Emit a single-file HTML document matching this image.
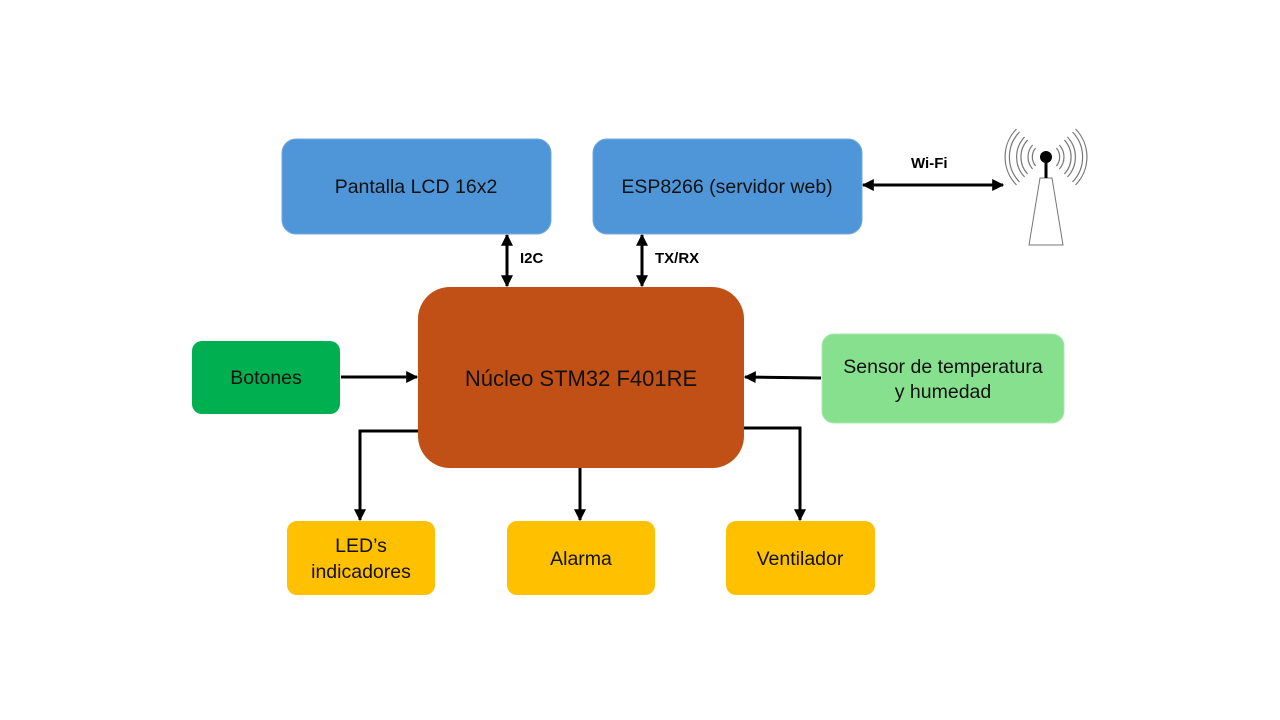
<!DOCTYPE html>
<html><head><meta charset="utf-8"><style>
html,body{margin:0;padding:0;background:#fff;}
svg{display:block;font-family:"Liberation Sans",sans-serif;}
</style></head><body>
<svg width="1280" height="720" viewBox="0 0 1280 720" xmlns="http://www.w3.org/2000/svg">
<defs>
<marker id="a" viewBox="0 0 10 10" refX="9" refY="5" markerWidth="4" markerHeight="4" orient="auto-start-reverse"><path d="M0,0L10,5L0,10z" fill="#000"/></marker>
</defs>
<rect width="1280" height="720" fill="#fff"/>
<g stroke="#000" stroke-width="3" fill="none">
<line x1="507" y1="235" x2="507" y2="286" marker-start="url(#a)" marker-end="url(#a)"/>
<line x1="642" y1="235" x2="642" y2="286" marker-start="url(#a)" marker-end="url(#a)"/>
<line x1="863" y1="185" x2="1003" y2="185" marker-start="url(#a)" marker-end="url(#a)"/>
<line x1="341" y1="377" x2="417" y2="377" marker-end="url(#a)"/>
<line x1="821" y1="378" x2="745" y2="377" marker-end="url(#a)"/>
<polyline points="418,431 360,431 360,520" marker-end="url(#a)"/>
<line x1="580" y1="468" x2="580" y2="520" marker-end="url(#a)"/>
<polyline points="744,428 800,428 800,520" marker-end="url(#a)"/>
</g>
<rect x="282" y="139" width="269" height="95" rx="14" fill="#4f96d9" stroke="#6fa9e0"/>
<rect x="593" y="139" width="269" height="95" rx="14" fill="#4f96d9" stroke="#6fa9e0"/>
<rect x="418" y="287" width="326" height="181" rx="32" fill="#c05016"/>
<rect x="192" y="341" width="148" height="73" rx="10" fill="#00b050"/>
<rect x="822" y="334" width="242" height="89" rx="12" fill="#86e08e" stroke="#a7e8ad"/>
<rect x="287" y="521" width="148" height="74" rx="10" fill="#ffc000"/>
<rect x="507" y="521" width="148" height="74" rx="10" fill="#ffc000"/>
<rect x="726" y="521" width="149" height="74" rx="10" fill="#ffc000"/>
<g font-size="19.5" text-anchor="middle" fill="#111">
<text x="416" y="193">Pantalla LCD 16x2</text>
<text x="727" y="193">ESP8266 (servidor web)</text>
<text x="581" y="386" font-size="22">Núcleo STM32 F401RE</text>
<text x="266" y="384">Botones</text>
<text x="943" y="373">Sensor de temperatura</text>
<text x="943" y="398">y humedad</text>
<text x="361" y="552">LED’s</text>
<text x="361" y="578">indicadores</text>
<text x="581" y="565">Alarma</text>
<text x="800" y="565">Ventilador</text>
</g>
<g font-size="15" font-weight="bold" fill="#000">
<text x="520" y="263">I2C</text>
<text x="655" y="263">TX/RX</text>
<text x="911" y="168">Wi-Fi</text>
</g>
<g fill="none" stroke="#777" stroke-width="1.2" transform="translate(1046,157)">
<path d="M-10.4,-9 A14,14 0 0 0 -10.4,9 M10.4,-9 A14,14 0 0 1 10.4,9"/>
<path d="M-13.4,-12 A18,18 0 0 0 -13.4,12 M13.4,-12 A18,18 0 0 1 13.4,12"/>
<path d="M-18.4,-17 A25,25 0 0 0 -18.4,17 M18.4,-17 A25,25 0 0 1 18.4,17"/>
<path d="M-21.4,-20 A29,29 0 0 0 -21.4,20 M21.4,-20 A29,29 0 0 1 21.4,20"/>
<path d="M-26.5,-25 A36,36 0 0 0 -26.5,25 M26.5,-25 A36,36 0 0 1 26.5,25"/>
<path d="M-29.5,-28 A40,40 0 0 0 -29.5,28 M29.5,-28 A40,40 0 0 1 29.5,28"/>
</g>
<polygon points="1040,178 1052,178 1063,245 1029,245" fill="#fff" stroke="#777" stroke-width="1"/>
<line x1="1046" y1="158" x2="1046" y2="178" stroke="#000" stroke-width="3"/>
<circle cx="1046" cy="157" r="6" fill="#000"/>
</svg>
</body></html>
